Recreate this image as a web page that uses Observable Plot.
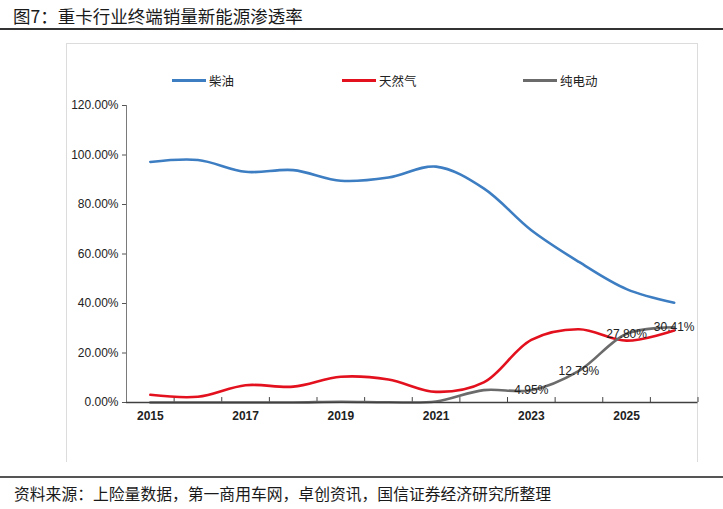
<!DOCTYPE html>
<html><head><meta charset="utf-8">
<script src="https://cdn.jsdelivr.net/npm/d3@7"></script>
<script src="https://cdn.jsdelivr.net/npm/@observablehq/plot@0.6"></script>
<style>
body{margin:0;background:#fff;width:723px;height:509px;position:relative;overflow:hidden;font-family:"Liberation Sans","Noto Sans CJK SC",sans-serif;}
#title{position:absolute;left:13px;top:3px;font-family:"Noto Sans CJK SC",sans-serif;font-size:17.5px;line-height:25px;color:#1a1a1a;white-space:nowrap;}
#rule1{position:absolute;left:0;top:28px;width:723px;height:2px;background:#333;}
#box{position:absolute;left:66px;top:43px;width:632px;height:419px;border:1px solid #dcdcdc;border-bottom:none;box-sizing:border-box;}
.leg{position:absolute;top:72px;height:16px;display:flex;align-items:center;font-family:"Noto Sans CJK SC",sans-serif;font-size:12.5px;color:#222;white-space:nowrap;}
.sw{display:inline-block;width:34px;height:3px;margin-right:3px;}
#chart{position:absolute;left:0;top:90px;}
#rule2{position:absolute;left:0;top:476px;width:723px;height:2px;background:#555;}
#source{position:absolute;left:14px;top:482px;font-family:"Noto Sans CJK SC",sans-serif;font-size:15.8px;line-height:23px;color:#1a1a1a;white-space:nowrap;}
</style></head>
<body>
<div id="title">图7：重卡行业终端销量新能源渗透率</div>
<div id="rule1"></div>
<div id="box"></div>
<div id="legend"></div>
<div id="chart"></div>
<div id="rule2"></div>
<div id="source">资料来源：上险量数据，第一商用车网，卓创资讯，国信证券经济研究所整理</div>
<script>
const years = [2015, 2016, 2017, 2018, 2019, 2020, 2021, 2022, 2023, 2024, 2025, 2026];
const yearLabels = [2015, 2017, 2019, 2021, 2023, 2025];
const diesel = [97.2, 98.0, 93.2, 93.9, 89.6, 90.9, 95.3, 86.5, 69.6, 56.8, 45.8, 40.3];
const gas = [3.1, 2.3, 7.0, 6.4, 10.4, 9.3, 4.3, 8.1, 25.3, 29.6, 25.0, 29.1];
const ev = [0, 0, 0, 0, 0.3, 0.1, 0.4, 5.0, 4.95, 12.79, 27.80, 30.41];
const evLabelYears = [2023, 2024, 2025, 2026];
const yTicks = [0, 20, 40, 60, 80, 100, 120];
const seriesNames = ["柴油", "天然气", "纯电动"];
const seriesColors = ["#3D7DC2", "#E3111E", "#6B6B6B"];
const seriesValues = [diesel, gas, ev];

// legend
const legendX = [172, 342, 523];
const legend = document.getElementById("legend");
seriesNames.forEach((n, i) => {
  const d = document.createElement("div");
  d.className = "leg";
  d.style.left = legendX[i] + "px";
  d.innerHTML = `<span class="sw" style="background:${seriesColors[i]}"></span>${n}`;
  legend.appendChild(d);
});

const rows = seriesNames.flatMap((n, i) => years.map((y, j) => ({series: n, year: y, value: seriesValues[i][j]})));
const evLabels = years.map((y, j) => ({year: y, value: ev[j]})).filter(d => evLabelYears.includes(d.year));
const boundaries = years.map(y => y + 0.5);

const chart = Plot.plot({
  width: 723,
  height: 350,
  marginLeft: 126,
  marginRight: 25.5,
  marginTop: 15,
  marginBottom: 38,
  style: {fontFamily: "'Liberation Sans', Arial, sans-serif", fontSize: "12px", background: "transparent"},
  x: {domain: [years[0] - 0.5, years[years.length - 1] + 0.5]},
  y: {domain: [0, 120]},
  color: {domain: seriesNames, range: seriesColors},
  marks: [
    Plot.axisY({ticks: yTicks, tickSize: 4, tickPadding: 4, tickFormat: d => d.toFixed(2) + "%", stroke: "#555", fill: "#222", label: null}),
    Plot.ruleX([years[0] - 0.5], {stroke: "#7a7a7a", strokeWidth: 1}),
    Plot.axisX({ticks: yearLabels, tickSize: 0, tickPadding: 9, tickFormat: d => String(d), fontWeight: "bold", fill: "#222", label: null}),
    Plot.ruleX(boundaries, {y1: 0, y2: 2, stroke: "#444"}),
    Plot.line(rows, {x: "year", y: "value", stroke: "series", strokeWidth: 2.6, curve: "catmull-rom"}),
    Plot.ruleY([0], {stroke: "#404040", strokeWidth: 1.3}),
    Plot.text(evLabels, {x: "year", y: "value", text: d => d.value.toFixed(2) + "%", fontSize: 12, fill: "#222"})
  ]
});
document.getElementById("chart").appendChild(chart);
</script>
</body></html>
